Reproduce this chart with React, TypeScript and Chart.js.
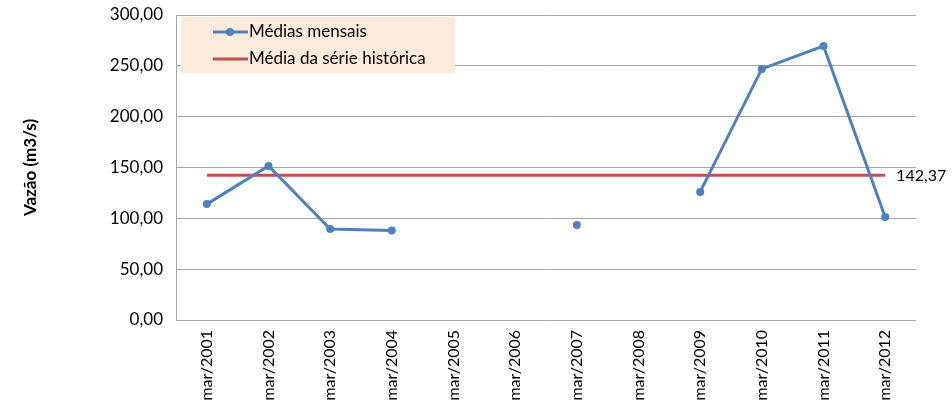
import React, { useEffect, useRef } from "react";
import { Chart, registerables } from "chart.js";

Chart.register(...registerables);

const categories = [
  "mar/2001", "mar/2002", "mar/2003", "mar/2004", "mar/2005", "mar/2006",
  "mar/2007", "mar/2008", "mar/2009", "mar/2010", "mar/2011", "mar/2012",
];
const monthlyMeans: (number | null)[] = [
  114, 151.5, 89.5, 88, null, null, 93.4, null, 126, 247, 269.5, 101.3,
];
const historicalMean = 142.37;
const historicalSeries = categories.map(() => historicalMean);
const seriesNames = ["Médias mensais", "Média da série histórica"];
const yAxisTitle = "Vazão (m3/s)";

const FONT = "Lato, 'Open Sans', sans-serif";
const BLUE = "#4F81BD";
const RED = "#C0504D";

const fmt = (v: number) => v.toFixed(2).replace(".", ",");

const overlayPlugin = {
  id: "overlay",
  afterDatasetsDraw(chart: any) {
    const { ctx, chartArea } = chart;
    ctx.save();
    // legend box
    const lx = chartArea.left + 5;
    const ly = chartArea.top + 2;
    ctx.fillStyle = "#FDEADA";
    ctx.fillRect(lx, ly, 274, 56);
    const y1 = ly + 15;
    const y2 = ly + 42;
    ctx.lineWidth = 3;
    ctx.strokeStyle = BLUE;
    ctx.beginPath();
    ctx.moveTo(lx + 32, y1);
    ctx.lineTo(lx + 67, y1);
    ctx.stroke();
    ctx.fillStyle = BLUE;
    ctx.beginPath();
    ctx.arc(lx + 49, y1, 4, 0, Math.PI * 2);
    ctx.fill();
    ctx.strokeStyle = RED;
    ctx.beginPath();
    ctx.moveTo(lx + 32, y2);
    ctx.lineTo(lx + 67, y2);
    ctx.stroke();
    ctx.fillStyle = "#000";
    ctx.font = `17px ${FONT}`;
    ctx.textBaseline = "middle";
    ctx.textAlign = "left";
    ctx.fillText(seriesNames[0], lx + 68, y1);
    ctx.fillText(seriesNames[1], lx + 68, y2);
    // value label
    const meta = chart.getDatasetMeta(1);
    const last = meta.data[meta.data.length - 1];
    ctx.font = `16px ${FONT}`;
    ctx.fillText(fmt(historicalMean), last.x + 11, last.y + 1);
    ctx.restore();
  },
};

export default function App() {
  const ref = useRef<HTMLCanvasElement>(null);
  useEffect(() => {
    document.body.style.margin = "0";
    const chart = new Chart(ref.current!, {
      type: "line",
      data: {
        labels: categories,
        datasets: [
          {
            label: seriesNames[0],
            data: monthlyMeans,
            borderColor: BLUE,
            backgroundColor: BLUE,
            borderWidth: 3,
            pointRadius: 4,
            pointBackgroundColor: BLUE,
            pointBorderWidth: 0,
            spanGaps: false,
            tension: 0,
          },
          {
            label: seriesNames[1],
            data: historicalSeries,
            borderColor: RED,
            backgroundColor: RED,
            borderWidth: 3,
            pointRadius: 0,
            tension: 0,
          },
        ],
      },
      options: {
        responsive: false,
        animation: false,
        layout: { padding: { top: 15, right: 36, left: 0, bottom: 0 } },
        plugins: { legend: { display: false }, tooltip: { enabled: false } },
        scales: {
          x: {
            offset: true,
            grid: { display: false, drawTicks: false },
            border: { display: false },
            ticks: {
              minRotation: 90,
              maxRotation: 90,
              padding: 10,
              color: "#000",
              font: { family: FONT, size: 16 },
            },
            afterFit(scale: any) {
              scale.height = 84;
              scale.paddingLeft = 0;
              scale.paddingRight = 0;
              scale.paddingTop = 0;
              scale.paddingBottom = 0;
            },
          },
          y: {
            min: 0,
            max: 300,
            grid: { color: "#A6A6A6", lineWidth: 1, drawTicks: false },
            border: { color: "#A6A6A6", width: 1 },
            ticks: {
              stepSize: 50,
              padding: 13,
              color: "#000",
              font: { family: FONT, size: 17 },
              callback: (v: any) => fmt(Number(v)),
            },
            title: {
              display: true,
              text: yAxisTitle,
              color: "#000",
              font: { family: FONT, size: 17, weight: "bold" },
              padding: { top: 20, bottom: 0 },
            },
            afterFit(scale: any) {
              scale.width = 176;
              scale.paddingTop = 0;
              scale.paddingBottom = 0;
              scale.paddingLeft = 0;
              scale.paddingRight = 0;
            },
          },
        },
      },
      plugins: [overlayPlugin],
    });
    return () => chart.destroy();
  }, []);
  return (
    <div style={{ width: 952, height: 404, background: "#fff" }}>
      <canvas ref={ref} width={952} height={404} />
    </div>
  );
}
